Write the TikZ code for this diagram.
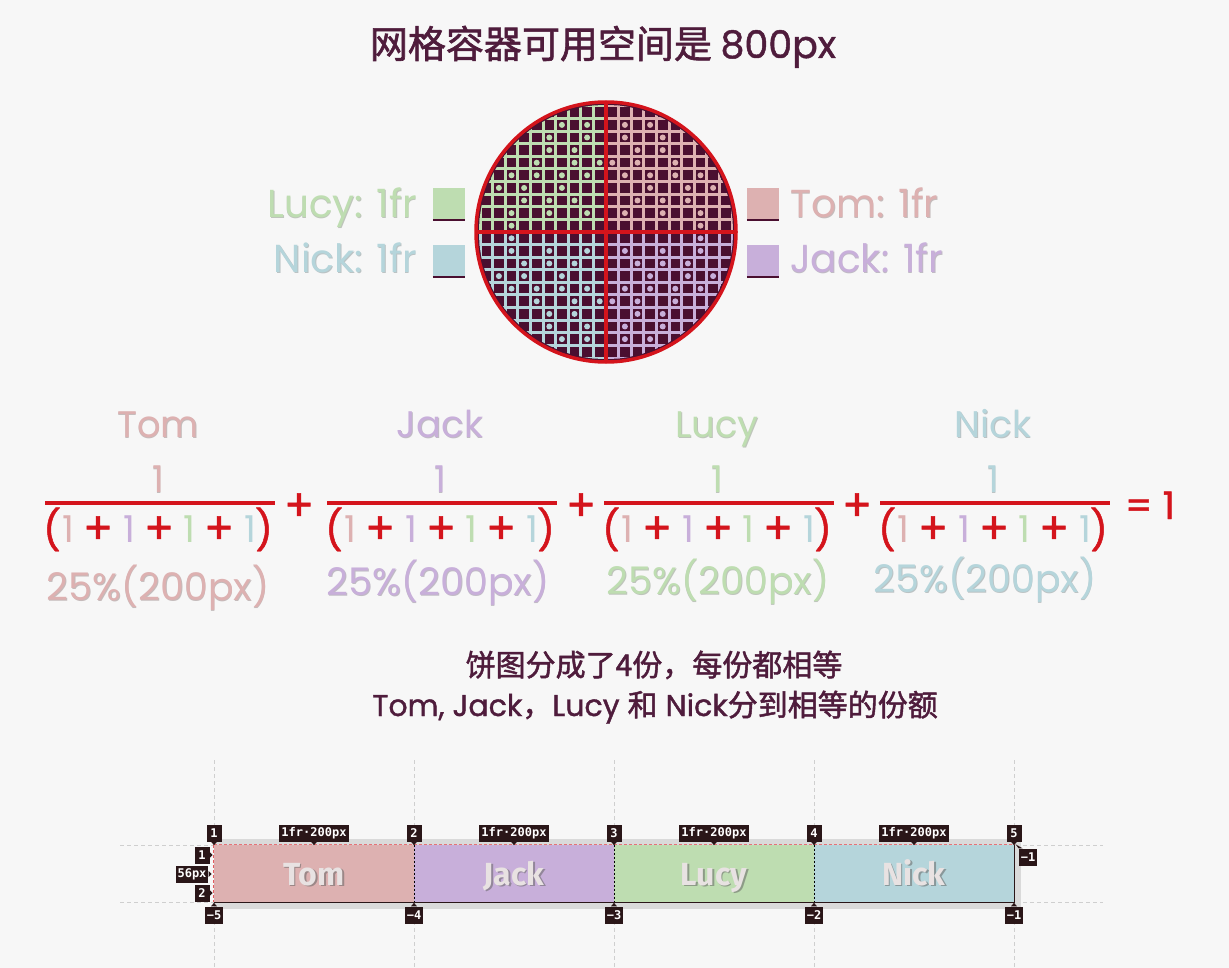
\documentclass[tikz,border=0pt]{standalone}
\usepackage{fontspec}
\setmainfont{Poppins}
\newfontfamily\cjk{Noto Sans CJK SC}
\newfontfamily\cjkb[FakeBold=1.6]{Noto Sans CJK SC}
\newfontfamily\popb[FakeBold=1.2]{Poppins}
\newfontfamily\monof{DejaVu Sans Mono}
\newfontfamily\labf{Fira Sans}
\usetikzlibrary{calc}
\definecolor{bgc}{HTML}{F7F7F7}
\definecolor{tomc}{HTML}{DDB1B1}
\definecolor{jackc}{HTML}{C8AFDA}
\definecolor{lucyc}{HTML}{BEDDB1}
\definecolor{nickc}{HTML}{B5D5DB}
\definecolor{maroon}{HTML}{4A0F30}
\definecolor{ink}{HTML}{4F1C3C}
\definecolor{redc}{HTML}{D4141C}
\definecolor{badgec}{HTML}{2A1618}
\definecolor{guide}{HTML}{CFCFCF}
\definecolor{shadowg}{HTML}{DADADA}
\definecolor{celltext}{HTML}{E8E2E2}

\newcommand\shnode[5]{%
  \node[#3,text=#4!55!black,opacity=.4] (#1s) at ($(#2)+(0.7,1)$) {#5};
  \node[#3,text=#4] (#1) at (#2) {#5};}

\newcommand\myfrac[6]{%
  \shnode{#1name}{#2-2,437}{nm}{#4}{#3}
  \shnode{#1num}{#2-2,492}{nm}{#4}{1}
  \coordinate (#1bl) at (#2-115,503);
  \coordinate (#1br) at (#2+115,503);
  \draw[fbar] (#1bl) -- (#1br);
  \node[paren] (#1lp) at (#2-108,544) {(};
  \node[paren] (#1rp) at (#2+104,544) {)};
  \node[dig,text=tomc] (#1d1) at (#2-92,542) {1};
  \node[dig,text=jackc] (#1d2) at (#2-31,542) {1};
  \node[dig,text=lucyc] (#1d3) at (#2+29,542) {1};
  \node[dig,text=nickc] (#1d4) at (#2+90,542) {1};
  \node[plus] (#1p1) at (#2-62,530) {+};
  \node[plus] (#1p2) at (#2-1,530) {+};
  \node[plus] (#1p3) at (#2+59,530) {+};
  \shnode{#1pct}{#5,#6}{pct}{#4}{25\%(200px)}
}

\begin{document}
\begin{tikzpicture}[x=1pt,y=-1pt,
  nm/.style={font=\fontsize{37}{37}\selectfont,anchor=base,inner sep=0},
  pct/.style={font=\fontsize{38}{38}\selectfont,anchor=base,inner sep=0},
  dig/.style={font=\fontsize{37}{37}\selectfont,anchor=base,inner sep=0},
  paren/.style={font=\popb\fontsize{39}{39}\selectfont,text=redc,anchor=base,inner sep=0},
  plus/.style={font=\popb\fontsize{44}{44}\selectfont,text=redc,inner sep=0},
  fbar/.style={redc,line width=4pt},
  leg/.style={font=\fontsize{39}{39}\selectfont,inner sep=0},
  sq/.style={minimum size=32pt,inner sep=0},
  gl/.style={line width=3pt},
  guideline/.style={guide,line width=0.8pt,dash pattern=on 4pt off 3pt},
  cell/.style={minimum width=200pt,minimum height=57pt,inner sep=0},
  clab/.style={font=\labf\bfseries\fontsize{32}{32}\selectfont,anchor=base,inner sep=0},
  badge/.style={fill=badgec,text=white,font=\monof\bfseries\fontsize{12}{12}\selectfont,inner sep=2pt,minimum height=17pt,minimum width=15pt},
  captext/.style={text=ink,anchor=base,inner sep=0}
]
\fill[bgc] (0,0) rectangle (1229,968);
\useasboundingbox (0,0) rectangle (1229,968);

% ---------- title ----------
\node[captext,font=\cjkb\fontsize{38}{38}\selectfont] (title) at (603,58) {网格容器可用空间是 {\popb 800px}};

% ---------- pie grid ----------
\fill[maroon] (606,232) circle (131);
\begin{scope}
  \clip (606,232) circle (127);
  \foreach \sx/\sy/\c in {-1/-1/lucyc, 1/-1/tomc, -1/1/nickc, 1/1/jackc}{
    \foreach \k in {1,...,10}{
      \draw[gl,\c] (606+\sx*12.6*\k,232) -- (606+\sx*12.6*\k,232+\sy*135);
      \draw[gl,\c] (606,232+\sy*12.6*\k) -- (606+\sx*135,232+\sy*12.6*\k);
    }
    \foreach \i/\j in {4/9,2/9,5/8,2/8,5/7,3/7,6/6,3/6,1/6,8/5,6/5,4/5,2/5,9/4,7/4,4/4,7/3,5/3,3/3,8/2,5/2,2/2,8/1}{
      \fill[\c] (606+\sx*12.6*\i-\sx*6.3,232+\sy*12.6*\j-\sy*6.3) circle (3);
    }
  }
\end{scope}
\draw[redc,line width=4pt] (606,102) -- (606,362);
\draw[redc,line width=4pt] (476,232) -- (736,232);
\draw[redc,line width=3.5pt] (606,232) circle (130);

% ---------- legend ----------
\node[sq,fill=lucyc] (sqLucy) at (449,204) {};
\node[sq,fill=nickc] (sqNick) at (449,261) {};
\node[sq,fill=tomc] (sqTom) at (763,204) {};
\node[sq,fill=jackc] (sqJack) at (763,261) {};
\foreach \s in {sqLucy,sqNick,sqTom,sqJack}{
  \draw[maroon,line width=1.4pt] (\s.south west) -- (\s.south east);
}
\shnode{legLucy}{417,218}{leg,anchor=base east}{lucyc}{Lucy: 1fr}
\shnode{legNick}{417,273}{leg,anchor=base east}{nickc}{Nick: 1fr}
\shnode{legTom}{790,218}{leg,anchor=base west}{tomc}{Tom: 1fr}
\shnode{legJack}{790,273}{leg,anchor=base west}{jackc}{Jack: 1fr}

% ---------- fractions ----------
\myfrac{T}{160}{Tom}{tomc}{158}{600}
\myfrac{J}{442}{Jack}{jackc}{438}{595}
\myfrac{L}{719}{Lucy}{lucyc}{718}{594}
\myfrac{N}{995}{Nick}{nickc}{985}{592}
\node[plus] (plus1) at (299,507) {+};
\node[plus] (plus2) at (581,507) {+};
\node[plus] (plus3) at (857,507) {+};
\node[font=\popb\fontsize{38}{38}\selectfont,text=redc,anchor=base,inner sep=0] (eq) at (1150,519) {= 1};

% ---------- captions ----------
\node[captext,font=\cjkb\fontsize{30}{30}\selectfont] (cap1) at (654,676) {饼图分成了4份，每份都相等};
\node[captext,font=\popb\fontsize{30}{30}\selectfont] (cap2) at (655,716) {Tom, Jack{\cjkb ，}Lucy {\cjkb 和} Nick{\cjkb 分到相等的份额}};

% ---------- grid inspector ----------
\foreach \x in {214,414,614,814,1014}{
  \draw[guideline] (\x,760) -- (\x,968);
}
\draw[guideline] (120,845) -- (1103,845);
\draw[guideline] (120,902) -- (1103,902);
\fill[shadowg] (214,839) rectangle (1021,909);
\node[cell,fill=tomc] (cTom) at (314,873.5) {};
\node[cell,fill=jackc] (cJack) at (514,873.5) {};
\node[cell,fill=lucyc] (cLucy) at (714,873.5) {};
\node[cell,fill=nickc] (cNick) at (914,873.5) {};
\foreach \c in {cTom,cJack,cLucy}{
  \draw[black,line width=0.8pt,dash pattern=on 2pt off 2pt] (\c.north east) -- (\c.south east);
}
\draw[badgec,line width=1.3pt] (cTom.south west) -- (cNick.south east) -- (cNick.north east);
\draw[redc!60,line width=1pt,dash pattern=on 3pt off 2pt] (cTom.north west) -- (cNick.north east);
\draw[redc!70,line width=1pt,dash pattern=on 3pt off 2pt] (cTom.north west) -- (cTom.south west);
\foreach \n/\x in {Tom/314,Jack/514,Lucy/714,Nick/914}{
  \node[clab,text=black!60,opacity=.55] (l\n s) at (\x+1.5,886.5) {\n};
  \node[clab,text=celltext] (l\n) at (\x,885) {\n};
}
% badges top
\foreach \i/\x in {1/214,2/414,3/614,4/814,5/1014}{
  \node[badge] (t\i) at (\x,833) {\i};
  \fill[badgec] ($(t\i.south)+(-3,0)$) -- ($(t\i.south)+(3,0)$) -- ($(t\i.south)+(0,3.5)$) -- cycle;
}
\foreach \i/\x in {1/314,2/514,3/714,4/914}{
  \node[badge] (f\i) at (\x,833) {1fr·200px};
  \fill[badgec] ($(f\i.south)+(-3,0)$) -- ($(f\i.south)+(3,0)$) -- ($(f\i.south)+(0,3.5)$) -- cycle;
}
% badges bottom
\foreach \i/\x in {5/214,4/414,3/614,2/814,1/1014}{
  \node[badge] (b\i) at (\x,915) {−\i};
  \fill[badgec] ($(b\i.north)+(-3,0)$) -- ($(b\i.north)+(3,0)$) -- ($(b\i.north)+(0,-3.5)$) -- cycle;
}
% badges left
\node[badge] (lr1) at (202,855) {1};
\node[badge] (lh) at (192,874) {56px};
\node[badge] (lr2) at (202,893) {2};
\foreach \b in {lr1,lh,lr2}{
  \fill[badgec] ($(\b.east)+(0,-3)$) -- ($(\b.east)+(0,3)$) -- ($(\b.east)+(3,0)$) -- cycle;
}
% badge right
\node[badge] (rr1) at (1028,857) {−1};
\fill[badgec] ($(rr1.north west)+(0,0)$) -- ($(rr1.north west)+(4,0)$) -- ($(rr1.north west)+(-3,-4)$) -- cycle;
\end{tikzpicture}
\end{document}
